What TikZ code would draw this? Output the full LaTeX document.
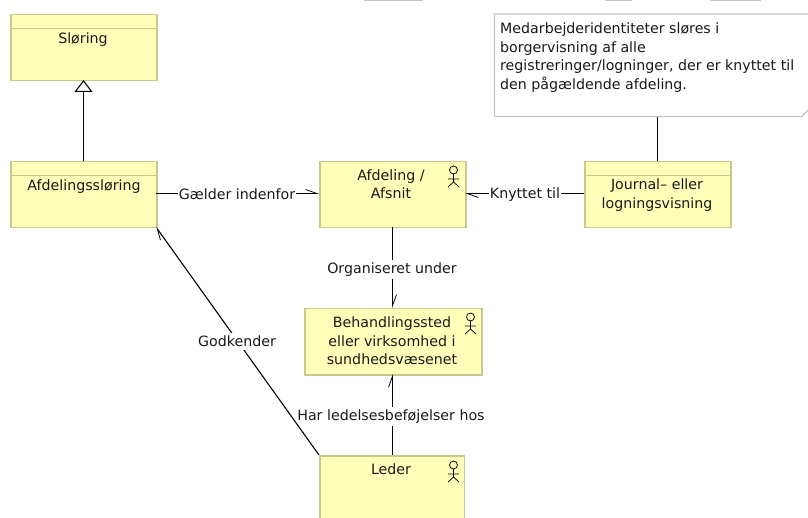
\documentclass[tikz,border=0pt]{standalone}
\usepackage{fontspec}
\setmainfont{DejaVu Sans}
\usetikzlibrary{arrows.meta}
\definecolor{boxfill}{HTML}{FFFFB9}
\definecolor{boxline}{HTML}{C8C88C}
\definecolor{noteline}{HTML}{C4C4C4}
\tikzset{
  x=1pt,y=-1pt,
  box/.style={draw=boxline,fill=boxfill,line width=1.5pt,anchor=north west,inner sep=0pt},
  lbl/.style={font=\fontsize{14.2}{18.5}\selectfont,align=center,text=black!90},
  edgelbl/.style={lbl,fill=white,inner xsep=1pt,inner ysep=3pt},
  conn/.style={draw=black,line width=1.1pt},
  open/.style={conn,-{Straight Barb[length=11pt,width=8pt,line width=0.8pt,harpoon]}},
  gen/.style={conn,-{Triangle[open,length=12pt,width=18pt,fill=white]}},
  actorpen/.style={draw=black,line width=0.75pt}
}
\newcommand{\stickman}[2]{%
  \draw[actorpen] (#1,#2+4) circle[radius=4];
  \draw[actorpen] (#1,#2+8) -- (#1,#2+16) (#1-5.5,#2+13) -- (#1+5.5,#2+13)
     (#1-5.5,#2+21) -- (#1,#2+16) -- (#1+5.5,#2+21);
}
\begin{document}
\begin{tikzpicture}
\useasboundingbox (0,0) rectangle (808,518);
% cropped fragments at the top edge
\draw[noteline,line width=1.2pt] (364,0.3) -- (423,0.3) (605,0.3) -- (632,0.3) (710,0.3) -- (761,0.3);
% boxes
\node[box,minimum width=146pt,minimum height=66pt] (sloering) at (10,14) {};
\draw[boxline,line width=1pt] (10,28.5) -- (156,28.5);
\node[lbl,anchor=center] (sloeringT) at (83,40) {Sløring};
\node[box,minimum width=146pt,minimum height=66pt] (afdsl) at (10,161) {};
\draw[boxline,line width=1pt] (10,175.5) -- (156,175.5);
\node[lbl,anchor=center] (afdslT) at (84,187) {Afdelingssløring};
\node[box,minimum width=146pt,minimum height=66pt] (afd) at (319,161) {};
\node[lbl,anchor=center] (afdT) at (391,184) {Afdeling /\\Afsnit};
\node[box,minimum width=146pt,minimum height=66pt] (journal) at (584,161) {};
\draw[boxline,line width=1pt] (584,175.5) -- (730,175.5);
\node[lbl,anchor=center] (journalT) at (657,195) {Journal– eller\\logningsvisning};
\node[box,minimum width=177pt,minimum height=66pt] (beh) at (304,308) {};
\node[lbl,anchor=center] (behT) at (392,341) {Behandlingssted\\eller virksomhed i\\sundhedsvæsenet};
\path[fill=boxfill] (319.75,455.75) rectangle (464.25,518);
\draw[boxline,line width=1.5pt] (319.75,518) -- (319.75,455.75) -- (464.25,455.75) -- (464.25,518);
\coordinate (ledercorner) at (319,455);
\node[lbl,anchor=center] (lederT) at (391,469) {Leder};
\stickman{453.5}{166}
\stickman{470.5}{313}
\stickman{453.5}{461}
% note
\draw[noteline,line width=1.3pt,fill=white] (808,14) -- (494.5,14) -- (494.5,116.5) -- (802,116.5) -- (808,110);
\node[lbl,anchor=north west,align=left,inner sep=0pt] (noteT) at (500,23) {Medarbejderidentiteter sløres i\\borgervisning af alle\\registreringer/logninger, der er knyttet til\\den pågældende afdeling.};
\coordinate (noteb) at (657.5,117);
% connectors
\draw[gen] (83.5,161) -- (83.5,80);
\draw[conn] (noteb) -- (657.5,161);
\draw[open] (156,193.5) -- (319,193.5);
\node[edgelbl] at (237,194.5) {Gælder indenfor};
\draw[open] (584,193.5) -- (465,193.5);
\node[edgelbl] at (525,194.5) {Knyttet til};
\draw[open] (392.5,227) -- (392.5,308);
\node[edgelbl] at (392,269.5) {Organiseret under};
\draw[open] (392.5,455) -- (392.5,374);
\node[edgelbl] at (391,416.5) {Har ledelsesbeføjelser hos};
\draw[open] (ledercorner) -- (156,227);
\node[edgelbl] at (237,341.5) {Godkender};
\end{tikzpicture}
\end{document}
